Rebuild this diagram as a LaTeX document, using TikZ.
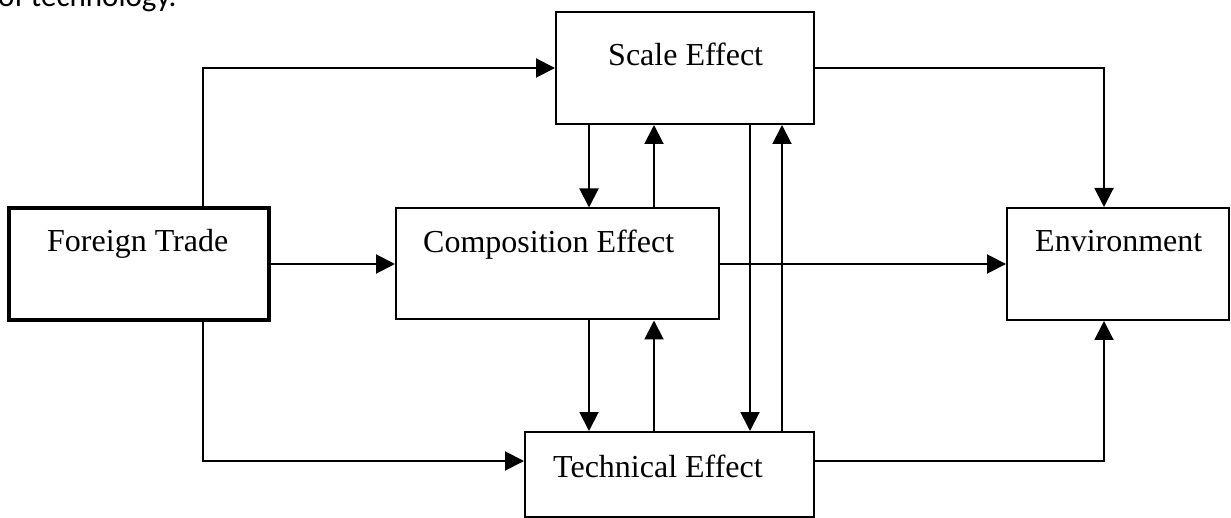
\documentclass[tikz,border=0pt]{standalone}
\usepackage{fontspec}
\setmainfont{Liberation Serif}
\newfontfamily\bodyfont{Carlito}
\usetikzlibrary{arrows.meta}
\tikzset{
  box/.style={draw=black, line width=2pt, rectangle, inner sep=0pt, fill=white},
  thickbox/.style={box, line width=3.5pt},
  lbl/.style={anchor=base west, inner sep=0pt, font=\fontsize{32}{38}\selectfont},
  arr/.style={draw=black, line width=2pt, -{Triangle[length=19pt,width=19pt]}},
}
\begin{document}
\begin{tikzpicture}[x=1pt,y=-1pt]
\useasboundingbox (0,0) rectangle (1231,518);
\clip (0,0) rectangle (1231,518);
\fill[white] (0,0) rectangle (1231,518);
% cropped running text at the top
\node[anchor=base west, inner sep=0pt, font=\bodyfont\fontsize{31}{36}\selectfont] (top) at (-2,7) {of technology.};
% boxes
\node[thickbox, minimum width=260pt, minimum height=112pt] (ft) at (139,264) {};
\node[box, minimum width=258pt, minimum height=112pt] (scale) at (685,68) {};
\node[box, minimum width=323pt, minimum height=111pt] (comp) at (557.5,264) {};
\node[box, minimum width=289pt, minimum height=85pt] (tech) at (669.5,474.5) {};
\node[box, minimum width=222pt, minimum height=112pt] (env) at (1118,264) {};
% labels
\node[lbl] (ftl) at (47,252) {Foreign Trade};
\node[lbl] (scl) at (608,66) {Scale Effect};
\node[lbl] (cpl) at (423,253) {Composition Effect};
\node[lbl] (tcl) at (553,477) {Technical Effect};
\node[lbl] (enl) at (1035,252) {Environment};
% helper coordinates
\coordinate (xl) at (203,0);
\coordinate (x1) at (589,0);
\coordinate (x2) at (654,0);
\coordinate (x3) at (750,0);
\coordinate (x4) at (782,0);
\coordinate (xe) at (1104,0);
\coordinate (yb) at (0,461);
% connectors
\draw[arr] (ft.north -| xl) |- (scale.west);
\draw[arr] (ft.east) -- (ft.east -| comp.west);
\draw[arr] (ft.south -| xl) |- (tech.west |- yb);
\draw[arr] (scale.south -| x1) -- (comp.north -| x1);
\draw[arr] (comp.north -| x2) -- (scale.south -| x2);
\draw[arr] (scale.south -| x3) -- (tech.north -| x3);
\draw[arr] (tech.north -| x4) -- (scale.south -| x4);
\draw[arr] (comp.south -| x1) -- (tech.north -| x1);
\draw[arr] (tech.north -| x2) -- (comp.south -| x2);
\draw[arr] (scale.east) -| (env.north -| xe);
\draw[arr] (comp.east) -- (comp.east -| env.west);
\draw[arr] (tech.east |- yb) -| (env.south -| xe);
\end{tikzpicture}
\end{document}
